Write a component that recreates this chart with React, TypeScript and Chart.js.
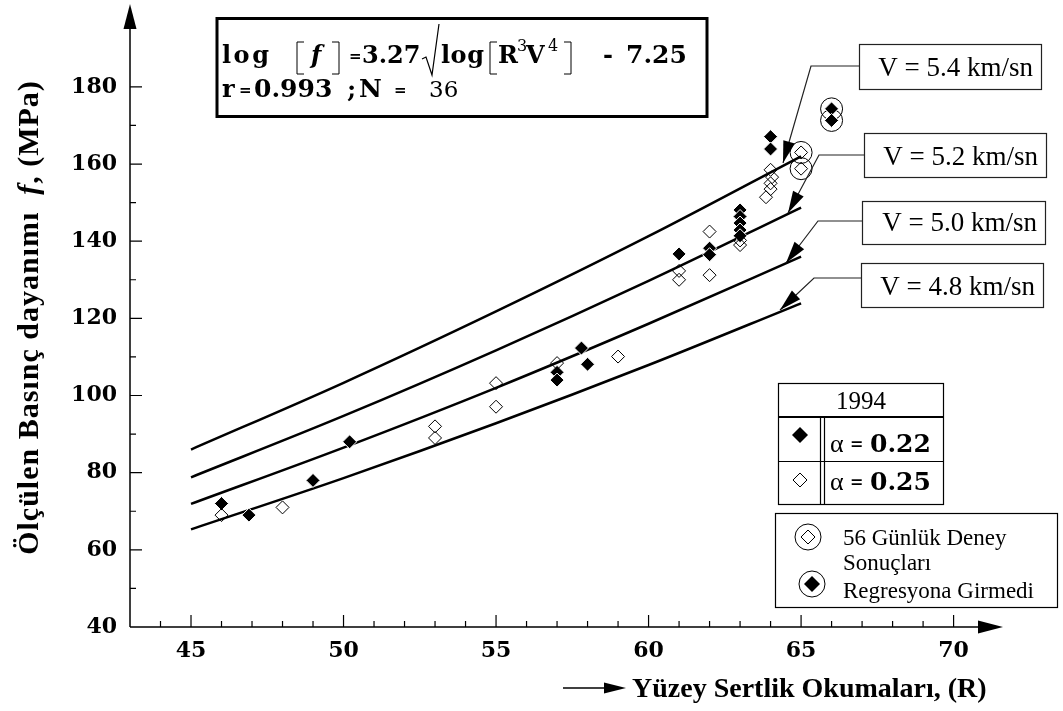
import { useEffect, useRef } from 'react';
import { Chart, registerables } from 'chart.js';

Chart.register(...registerables);

// ---- data ----
const curveR = [45, 50, 55, 60, 65];
const curveV48 = [65.3, 78.6, 92.8, 107.9, 123.9];
const curveV50 = [71.9, 86.5, 102.0, 118.6, 136.0];
const curveV52 = [78.8, 94.7, 111.7, 129.7, 148.7];
const curveV54 = [86.0, 103.3, 121.8, 141.3, 162.0];

const filledR = [46, 46.9, 49, 50.2, 57, 57, 57.8, 58, 61, 62, 62, 63, 63, 63, 63, 63, 64, 64];
const filledF = [72, 69, 78, 88, 106, 104, 112.3, 108.1, 136.7, 138.2, 136.5, 148.1, 146.4, 144.7, 142.9, 141.4, 167.1, 163.9];

const openR = [46, 48, 53, 53, 55, 55, 57, 59, 61, 61, 62, 62, 63, 63, 64, 64.05, 64, 64, 63.85];
const openF = [69, 71, 92, 89, 103.2, 97.1, 108.4, 110.1, 132.3, 130, 142.5, 131.2, 140.2, 139, 158.5, 156.6, 155, 153.5, 151.4];

const circledOpenR = [65, 65];
const circledOpenF = [163, 158.8];
const circledFilledR = [66, 66];
const circledFilledF = [174.3, 171.3];

const xTicks = [45, 50, 55, 60, 65, 70];
const yTicks = [40, 60, 80, 100, 120, 140, 160, 180];

const vLabels = ['V = 5.4 km/sn', 'V = 5.2 km/sn', 'V = 5.0 km/sn', 'V = 4.8 km/sn'];

const LIB = '"Liberation Serif"';
const DJV = '"DejaVu Serif"';

function pts(xs: number[], ys: number[]) {
  return xs.map((x, i) => ({ x, y: ys[i] }));
}

function diamondPath(ctx: CanvasRenderingContext2D, x: number, y: number, r: number) {
  ctx.beginPath();
  ctx.moveTo(x, y - r);
  ctx.lineTo(x + r, y);
  ctx.lineTo(x, y + r);
  ctx.lineTo(x - r, y);
  ctx.closePath();
}

function arrowHead(ctx: CanvasRenderingContext2D, fx: number, fy: number, tx: number, ty: number, len: number, hw: number) {
  const dx = tx - fx, dy = ty - fy;
  const d = Math.hypot(dx, dy);
  const ux = dx / d, uy = dy / d;
  const bx = tx - ux * len, by = ty - uy * len;
  ctx.beginPath();
  ctx.moveTo(tx, ty);
  ctx.lineTo(bx - uy * hw, by + ux * hw);
  ctx.lineTo(bx + uy * hw, by - ux * hw);
  ctx.closePath();
  ctx.fill();
}

function bracket(ctx: CanvasRenderingContext2D, x: number, y1: number, y2: number, dir: number) {
  ctx.beginPath();
  ctx.moveTo(x + dir * 7, y1);
  ctx.lineTo(x, y1);
  ctx.lineTo(x, y2);
  ctx.lineTo(x + dir * 7, y2);
  ctx.stroke();
}

function spaced(ctx: any, text: string, x: number, y: number, sp: number) {
  ctx.letterSpacing = sp + 'px';
  ctx.fillText(text, x, y);
  ctx.letterSpacing = '0px';
}

const decor = {
  id: 'decor',
  afterDraw(chart: any) {
    const ctx: CanvasRenderingContext2D = chart.ctx;
    const xs = chart.scales.x;
    const ys = chart.scales.y;
    const { left, right, top, bottom } = chart.chartArea;
    ctx.save();
    ctx.fillStyle = '#000';
    ctx.strokeStyle = '#000';

    // axes
    ctx.lineWidth = 1.5;
    ctx.beginPath();
    ctx.moveTo(left, bottom);
    ctx.lineTo(left, top);
    ctx.moveTo(left, bottom);
    ctx.lineTo(right, bottom);
    ctx.stroke();
    arrowHead(ctx, left, top, left, top - 25, 25, 6.5);
    arrowHead(ctx, right, bottom, right + 25, bottom, 25, 6.5);

    // tick marks (inside)
    ctx.lineWidth = 1.2;
    ctx.beginPath();
    for (let v = 44; v <= 70; v++) {
      const px = xs.getPixelForValue(v);
      const len = v % 5 === 0 ? 12 : 6;
      ctx.moveTo(px, bottom);
      ctx.lineTo(px, bottom - len);
    }
    for (let v = 50; v <= 180; v += 10) {
      const py = ys.getPixelForValue(v);
      const len = v % 20 === 0 ? 12 : 6;
      ctx.moveTo(left, py);
      ctx.lineTo(left + len, py);
    }
    ctx.stroke();

    // y title
    ctx.save();
    ctx.translate(38, 317.5);
    ctx.rotate(-Math.PI / 2);
    (ctx as any).letterSpacing = '1px';
    const yParts = [
      { t: 'Ölçülen Basınç dayanımı  ', f: `bold 30px ${LIB}` },
      { t: 'f', f: `italic bold 30px ${LIB}` },
      { t: ', (MPa)', f: `bold 30px ${LIB}` },
    ];
    let tot = 0;
    for (const p of yParts) { ctx.font = p.f; tot += ctx.measureText(p.t).width; }
    let cx = -tot / 2;
    ctx.textBaseline = 'alphabetic';
    ctx.textAlign = 'left';
    for (const p of yParts) { ctx.font = p.f; ctx.fillText(p.t, cx, 0); cx += ctx.measureText(p.t).width; }
    (ctx as any).letterSpacing = '0px';
    ctx.restore();

    // x title with arrow
    ctx.lineWidth = 1.5;
    ctx.beginPath();
    ctx.moveTo(563, 688);
    ctx.lineTo(606, 688);
    ctx.stroke();
    arrowHead(ctx, 563, 688, 626, 688, 22, 5.5);
    ctx.font = `bold 28px ${LIB}`;
    ctx.textAlign = 'left';
    ctx.textBaseline = 'alphabetic';
    ctx.fillText('Yüzey Sertlik Okumaları, (R)', 632, 697);

    // equation box
    ctx.lineWidth = 3;
    ctx.strokeRect(217, 18.5, 490, 98);
    ctx.lineWidth = 1;
    const B = `bold 24px ${DJV}`;
    ctx.font = B;
    spaced(ctx, 'log', 222, 63, 2.5);
    bracket(ctx, 297, 42, 74, 1);
    ctx.font = `italic bold 24px ${DJV}`;
    ctx.fillText('f', 311, 63);
    bracket(ctx, 339, 42, 74, -1);
    ctx.font = `bold 15px ${DJV}`;
    ctx.fillText('=', 349, 61);
    ctx.font = B;
    ctx.fillText('3.27', 362, 63);
    ctx.lineWidth = 1.2;
    ctx.beginPath();
    ctx.moveTo(422, 59);
    ctx.lineTo(426, 57);
    ctx.lineTo(432, 75);
    ctx.lineTo(439, 24);
    ctx.stroke();
    ctx.lineWidth = 1;
    ctx.font = B;
    spaced(ctx, 'log', 441, 63, 0.5);
    bracket(ctx, 490, 42, 74, 1);
    ctx.fillText('R', 498, 63);
    ctx.font = `16px ${DJV}`;
    ctx.fillText('3', 517, 51);
    ctx.font = B;
    ctx.fillText('V', 526, 63);
    ctx.font = `16px ${DJV}`;
    ctx.fillText('4', 548, 51);
    bracket(ctx, 571, 42, 74, -1);
    ctx.font = B;
    ctx.fillText('-', 603, 63);
    ctx.font = `bold 25px ${DJV}`;
    ctx.fillText('7.25', 626, 63);
    // line 2
    ctx.font = `bold 24px ${DJV}`;
    ctx.fillText('r', 222, 97);
    ctx.font = `bold 15px ${DJV}`;
    ctx.fillText('=', 239, 95);
    ctx.font = `bold 25px ${DJV}`;
    ctx.fillText('0.993', 254, 97);
    ctx.fillText(';', 347, 97);
    ctx.fillText('N', 359, 97);
    ctx.font = `bold 15px ${DJV}`;
    ctx.fillText('=', 394, 95);
    ctx.font = `23px ${DJV}`;
    ctx.fillText('36', 429, 97);

    // V label boxes with leaders
    const boxes = [
      { x: 859, y: 44, w: 182, h: 45, base: 76, ly: 66, ex: 811, tx: 783, ty: 163 },
      { x: 864, y: 133, w: 182, h: 44, base: 165, ly: 155, ex: 819, tx: 788, ty: 213 },
      { x: 862, y: 201, w: 183, h: 43, base: 231, ly: 221, ex: 818, tx: 786, ty: 263 },
      { x: 861, y: 263, w: 182, h: 44, base: 295, ly: 278, ex: 814, tx: 780, ty: 310 },
    ];
    boxes.forEach((b, i) => {
      ctx.lineWidth = 1.2;
      ctx.strokeStyle = '#222';
      ctx.strokeRect(b.x + 0.5, b.y + 0.5, b.w, b.h);
      ctx.beginPath();
      ctx.moveTo(b.x, b.ly);
      ctx.lineTo(b.ex, b.ly);
      ctx.lineTo(b.tx, b.ty);
      ctx.stroke();
      arrowHead(ctx, b.ex, b.ly, b.tx, b.ty, 22, 6);
      ctx.font = `27px ${LIB}`;
      ctx.textAlign = 'right';
      ctx.fillText(vLabels[i], b.x + b.w - 8, b.base);
    });
    ctx.textAlign = 'left';
    ctx.strokeStyle = '#000';

    // legend table (1994)
    ctx.lineWidth = 1.2;
    ctx.strokeRect(778.5, 383.5, 165, 121);
    ctx.beginPath();
    ctx.moveTo(778, 461.5); ctx.lineTo(943, 461.5);
    ctx.moveTo(820.5, 417); ctx.lineTo(820.5, 504);
    ctx.moveTo(824.5, 417); ctx.lineTo(824.5, 504);
    ctx.stroke();
    ctx.lineWidth = 2;
    ctx.beginPath();
    ctx.moveTo(778, 417); ctx.lineTo(943, 417);
    ctx.stroke();
    ctx.font = `25px ${LIB}`;
    ctx.textAlign = 'center';
    ctx.fillText('1994', 861, 409);
    ctx.textAlign = 'left';
    diamondPath(ctx, 800, 435, 8);
    ctx.fill();
    ctx.lineWidth = 1;
    diamondPath(ctx, 800, 480, 7);
    ctx.stroke();
    const alphaRows = [{ y: 452, v: '0.22' }, { y: 490, v: '0.25' }];
    for (const r of alphaRows) {
      ctx.font = `26px ${LIB}`;
      ctx.fillText('α', 830, r.y);
      ctx.font = `bold 16px ${DJV}`;
      ctx.fillText('=', 850, r.y - 3);
      ctx.font = `bold 25px ${DJV}`;
      ctx.fillText(r.v, 870, r.y);
    }

    // legend 2 (circled points)
    ctx.lineWidth = 1.2;
    ctx.strokeRect(775.5, 513.5, 282, 94);
    ctx.lineWidth = 1;
    ctx.beginPath(); ctx.arc(808, 537, 13, 0, Math.PI * 2); ctx.stroke();
    diamondPath(ctx, 808, 537, 7); ctx.stroke();
    ctx.beginPath(); ctx.arc(812, 584, 13, 0, Math.PI * 2); ctx.stroke();
    diamondPath(ctx, 812, 584, 8); ctx.fill();
    ctx.font = `23px ${LIB}`;
    ctx.fillText('56 Günlük Deney', 843, 545);
    ctx.fillText('Sonuçları', 843, 570);
    ctx.fillText('Regresyona Girmedi', 843, 598);

    ctx.restore();
  },
};

export default function App() {
  const ref = useRef<HTMLCanvasElement | null>(null);
  useEffect(() => {
    if (!ref.current) return;
    const lineDs = (ys: number[]) => ({
      data: pts(curveR, ys),
      showLine: true,
      borderColor: '#000',
      borderWidth: 2.5,
      pointRadius: 0,
      fill: false,
      cubicInterpolationMode: 'monotone' as const,
    });
    const chart = new Chart(ref.current, {
      type: 'scatter',
      data: {
        datasets: [
          {
            data: pts(circledFilledR, circledFilledF),
            pointStyle: 'rectRot',
            pointRadius: 7,
            backgroundColor: '#000',
            borderColor: '#fff',
            borderWidth: 1,
          },
          {
            data: pts(circledOpenR, circledOpenF),
            pointStyle: 'rectRot',
            pointRadius: 6.5,
            backgroundColor: 'rgba(255,255,255,0)',
            borderColor: '#000',
            borderWidth: 1,
          },
          {
            data: pts([...circledOpenR, ...circledFilledR], [...circledOpenF, ...circledFilledF]),
            pointStyle: 'circle',
            pointRadius: 11,
            backgroundColor: 'rgba(255,255,255,0)',
            borderColor: '#000',
            borderWidth: 1,
          },
          {
            data: pts(openR, openF),
            pointStyle: 'rectRot',
            pointRadius: 6.5,
            backgroundColor: 'rgba(255,255,255,0)',
            borderColor: '#000',
            borderWidth: 1,
          },
          {
            data: pts(filledR, filledF),
            pointStyle: 'rectRot',
            pointRadius: 7,
            backgroundColor: '#000',
            borderColor: '#fff',
            borderWidth: 1,
          },
          lineDs(curveV54),
          lineDs(curveV52),
          lineDs(curveV50),
          lineDs(curveV48),
        ] as any,
      },
      options: {
        animation: false,
        responsive: true,
        maintainAspectRatio: false,
        events: [],
        layout: { padding: { top: 29, right: 85, left: 0, bottom: 0 } },
        plugins: { legend: { display: false }, tooltip: { enabled: false } },
        scales: {
          x: {
            type: 'linear',
            min: 43,
            max: 70.8,
            afterBuildTicks: (s: any) => { s.ticks = xTicks.map((v) => ({ value: v })); },
            afterFit: (s: any) => { s.height = 84; },
            grid: { display: false, drawTicks: false },
            border: { display: false },
            ticks: {
              color: '#000',
              font: { family: 'DejaVu Serif', weight: 'bold', size: 22 },
              padding: 11,
              maxRotation: 0,
              autoSkip: false,
            },
          },
          y: {
            type: 'linear',
            min: 40,
            max: 195,
            afterBuildTicks: (s: any) => { s.ticks = yTicks.map((v) => ({ value: v })); },
            afterFit: (s: any) => { s.width = 130; },
            grid: { display: false, drawTicks: false },
            border: { display: false },
            ticks: {
              color: '#000',
              font: { family: 'DejaVu Serif', weight: 'bold', size: 22 },
              padding: 13,
              autoSkip: false,
            },
          },
        },
      } as any,
      plugins: [decor],
    });
    return () => chart.destroy();
  }, []);
  return (
    <div style={{ position: 'absolute', left: 0, top: 0, width: 1063, height: 711, background: '#fff' }}>
      <canvas ref={ref} />
    </div>
  );
}
